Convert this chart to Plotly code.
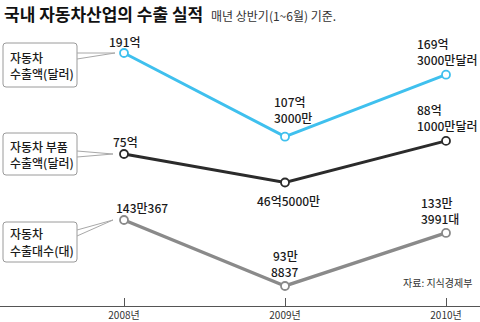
import plotly.graph_objects as go

# Export performance of the Korean auto industry, first half (Jan-Jun) of each year
years = ["2008년", "2009년", "2010년"]
car_exports_usd = [191.0, 107.3, 169.3]        # 억 달러
parts_exports_usd = [75.0, 46.5, 88.1]         # 억 달러
car_exports_units = [143.0367, 93.8837, 133.3991]  # 만 대

car_usd_labels = [["191억"], ["107억", "3000만"], ["169억", "3000만달러"]]
parts_usd_labels = [["75억"], ["46억5000만"], ["88억", "1000만달러"]]
units_labels = [["143만367"], ["93만", "8837"], ["133만", "3991대"]]

W, H = 480, 322
BOTTOM = 16
PLOT_H = H - BOTTOM

BLUE = "#3fc0ee"
DARK = "#2b2b2b"
GRAY = "#8a8a8a"
KR = "Noto Sans CJK KR, sans-serif"


def px(x):
    return x / W


def py(y):
    return (PLOT_H - y) / PLOT_H


xs = list(range(len(years)))
fig = go.Figure()

series = [
    (car_exports_usd, BLUE, "y", 3),
    (parts_exports_usd, DARK, "y2", 3),
    (car_exports_units, GRAY, "y3", 3.5),
]
for vals, color, yax, lw in series:
    fig.add_trace(go.Scatter(
        x=xs, y=vals, yaxis=yax, mode="lines+markers",
        line=dict(color=color, width=lw),
        marker=dict(symbol="circle", size=8, color="white",
                    line=dict(color=color, width=1.8)),
        hoverinfo="skip", showlegend=False,
    ))

annotations = []
LINE_GAP = 16


def value_label(i, val, yref, lines, dx, dy, xanchor="center"):
    # first line sits dy pixels above the point; following lines stack downward
    for k, line in enumerate(lines):
        annotations.append(dict(
            x=i, y=val, xref="x", yref=yref, text=line, showarrow=False,
            xshift=dx, yshift=dy - k * LINE_GAP, xanchor=xanchor, yanchor="middle",
            font=dict(family=KR, size=12, color="#1a1a1a", weight=500),
        ))


# car exports (USD)
value_label(0, car_exports_usd[0], "y", car_usd_labels[0], 1, 12)
value_label(1, car_exports_usd[1], "y", car_usd_labels[1], -13, 35, "left")
value_label(2, car_exports_usd[2], "y", car_usd_labels[2], -31, 31, "left")
# parts exports (USD)
value_label(0, parts_exports_usd[0], "y2", parts_usd_labels[0], 1, 13)
value_label(1, parts_exports_usd[1], "y2", parts_usd_labels[1], 3, -18)
value_label(2, parts_exports_usd[2], "y2", parts_usd_labels[2], -31, 31, "left")
# car exports (units)
value_label(0, car_exports_units[0], "y3", units_labels[0], -10, 13, "left")
value_label(1, car_exports_units[1], "y3", units_labels[1], 0, 31)
value_label(2, car_exports_units[2], "y3", units_labels[2], -27, 30, "left")

# title and notes
annotations.append(dict(
    x=px(2), y=py(14), xref="paper", yref="paper", xanchor="left", yanchor="middle",
    text="<b>국내 자동차산업의 수출 실적</b>", showarrow=False,
    font=dict(family=KR, size=17, color="#111"),
))
annotations.append(dict(
    x=px(209), y=py(15), xref="paper", yref="paper", xanchor="left", yanchor="middle",
    text="매년 상반기(1~6월) 기준.", showarrow=False,
    font=dict(family=KR, size=12, color="#333"),
))
annotations.append(dict(
    x=px(474), y=py(282), xref="paper", yref="paper", xanchor="right", yanchor="middle",
    text="자료: 지식경제부", showarrow=False,
    font=dict(family=KR, size=10, color="#333"),
))

shapes = []


def callout(box, lines, tip, wedge, first_y):
    x0, y0, x1, y1 = box
    r = 3
    path = (f"M {px(x0 + r)},{py(y0)} L {px(x1 - r)},{py(y0)} "
            f"Q {px(x1)},{py(y0)} {px(x1)},{py(y0 + r)} "
            f"L {px(x1)},{py(y1 - r)} Q {px(x1)},{py(y1)} {px(x1 - r)},{py(y1)} "
            f"L {px(x0 + r)},{py(y1)} Q {px(x0)},{py(y1)} {px(x0)},{py(y1 - r)} "
            f"L {px(x0)},{py(y0 + r)} Q {px(x0)},{py(y0)} {px(x0 + r)},{py(y0)} Z")
    shapes.append(dict(type="path", xref="paper", yref="paper", path=path,
                       line=dict(color="#9a9a9a", width=1), fillcolor="white"))
    tx, ty = tip
    for wy in wedge:
        shapes.append(dict(type="line", xref="paper", yref="paper",
                           x0=px(x1), y0=py(wy), x1=px(tx), y1=py(ty),
                           line=dict(color="#a8a8a8", width=1)))
    for k, line in enumerate(lines):
        annotations.append(dict(
            x=px(x0 + 5), y=py(first_y + k * LINE_GAP), xref="paper", yref="paper",
            xanchor="left", yanchor="middle", showarrow=False, text=line,
            font=dict(family=KR, size=12, color="#1a1a1a", weight=500),
        ))


callout((3, 43, 77, 87), ["자동차", "수출액(달러)"], (115, 53), (53, 59), 57)
callout((3, 133, 77, 175), ["자동차 부품", "수출액(달러)"], (113, 154), (151, 157), 146)
callout((3, 222, 77, 262), ["자동차", "수출대수(대)"], (113, 220), (230, 236), 234)

span = 161.0
fig.update_layout(
    width=W, height=H,
    margin=dict(l=0, r=0, t=0, b=BOTTOM),
    paper_bgcolor="white", plot_bgcolor="white",
    xaxis=dict(
        range=[-124 / span, (W - 124) / span], tickvals=xs, ticktext=years,
        showline=True, linecolor="#555", linewidth=1,
        ticks="inside", ticklen=8, tickcolor="#555",
        showgrid=False, zeroline=False, automargin=False,
        tickfont=dict(family=KR, size=10, color="#333"),
    ),
    yaxis=dict(range=[-62, 244], visible=False, fixedrange=True),
    yaxis2=dict(range=[-77, 229], visible=False, overlaying="y"),
    yaxis3=dict(range=[79.0, 306.85], visible=False, overlaying="y"),
    annotations=annotations,
    shapes=shapes,
)

fig.write_html("out.html")
